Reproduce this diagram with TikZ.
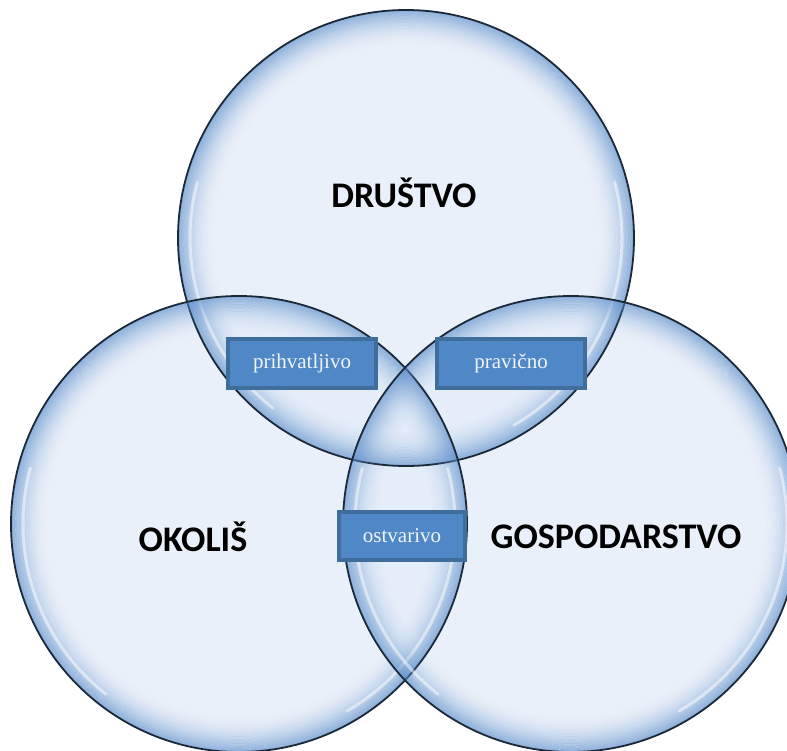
\documentclass[tikz,border=0pt]{standalone}
\usepackage{fontspec}
\setmainfont{Liberation Serif}
\newfontfamily\lblfont{Carlito}
\definecolor{glassin}{HTML}{E3ECF8}
\definecolor{glassout}{HTML}{5A8CCB}
\definecolor{rimline}{HTML}{1A2838}
\definecolor{boxfill}{HTML}{4F87C7}
\definecolor{boxline}{HTML}{3F6E9D}
\begin{document}
\begin{tikzpicture}[x=1pt,y=-1pt,
  bubble/.style={circle, minimum size=456pt, inner sep=0pt, outer sep=0pt, fill=glassin, fill opacity=0.75, draw=none},
  rim/.style={draw=rimline, line width=1.8pt},
  shine/.style={draw=white, line width=3pt, opacity=0.5, line cap=round},
  tag/.style={rectangle, fill=boxfill, draw=boxline, line width=3.5pt, inner sep=0pt, text=white!92!boxfill, font=\fontsize{21}{21}\selectfont, minimum height=49pt},
  head/.style={font=\lblfont\bfseries\fontsize{36}{36}\selectfont, text=black, inner sep=0pt}]
\useasboundingbox (0,0) rectangle (787,751);
\fill[white] (0,0) rectangle (787,751);
\clip (0,0) rectangle (787,751);
\node[bubble] (top) at (406,238) {};
\node[bubble] (left) at (239,524) {};
\node[bubble] (right) at (571,524) {};
\foreach \n in {top,left,right}{
  \foreach \k [evaluate=\k as \op using {0.6*(1-\k/26)^2}, evaluate=\k as \rr using {227-1.4*\k}] in {0,...,25}{
    \draw[glassout, line width=1.5pt, draw opacity=\op] (\n.center) circle[radius=\rr pt];
  }
  \draw[shine] ([shift={(165:216pt)}]\n.center) arc[start angle=165, end angle=232, radius=216pt];
  \draw[shine] ([shift={(300:216pt)}]\n.center) arc[start angle=300, end angle=375, radius=216pt];
  \draw[rim] (\n.center) circle[radius=228pt];
}
\node[head] (drustvo) at (404,193) {DRUŠTVO};
\node[head] (okolis) at (193,537) {OKOLIŠ};
\node[head] (gosp) at (616,537) {GOSPODARSTVO};
\node[tag, minimum width=148pt] (prihv) at (302,363.5) {prihvatljivo};
\node[tag, minimum width=148pt] (pravic) at (511,363.5) {pravično};
\node[tag, minimum width=126pt, minimum height=48pt] (ostv) at (402,536) {ostvarivo};
\end{tikzpicture}
\end{document}
